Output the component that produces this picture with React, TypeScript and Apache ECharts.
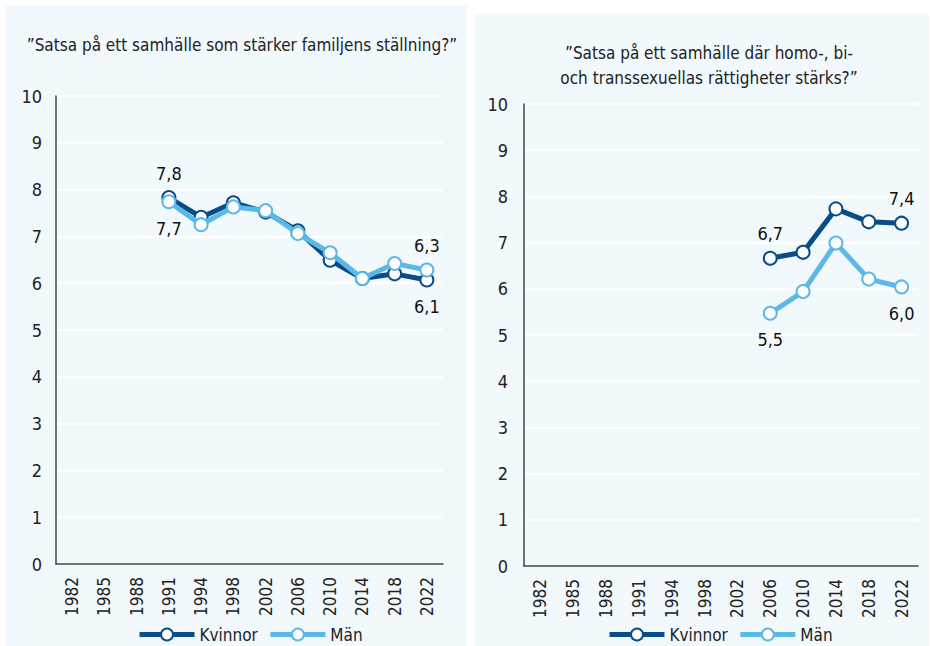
import React, { useEffect, useRef } from "react";
import * as echarts from "echarts";

const years = ["1982", "1985", "1988", "1991", "1994", "1998", "2002", "2006", "2010", "2014", "2018", "2022"];
const yTicks = [0, 10];

const leftTitle = "”Satsa på ett samhälle som stärker familjens ställning?”";
const rightTitle = "”Satsa på ett samhälle där homo-, bi-\noch transsexuellas rättigheter stärks?”";

const leftKvinnor = [null, null, null, 7.83, 7.41, 7.72, 7.52, 7.12, 6.49, 6.1, 6.2, 6.07];
const leftMan = [null, null, null, 7.74, 7.25, 7.63, 7.55, 7.06, 6.65, 6.1, 6.42, 6.28];
const rightKvinnor = [null, null, null, null, null, null, null, 6.66, 6.79, 7.73, 7.45, 7.42];
const rightMan = [null, null, null, null, null, null, null, 5.47, 5.94, 6.99, 6.21, 6.04];

// which points carry value labels: [index, position]
const leftKvinnorLabels: [number, string][] = [[3, "top"], [11, "bottom"]];
const leftManLabels: [number, string][] = [[3, "bottom"], [11, "top"]];
const rightKvinnorLabels: [number, string][] = [[7, "top"], [11, "top"]];
const rightManLabels: [number, string][] = [[7, "bottom"], [11, "bottom"]];

const DARK = "#0a4c88";
const LIGHT = "#5cb8e6";
const BG = "#f2f9fd";
const FONT = "'Liberation Sans Narrow', 'DejaVu Sans Condensed', 'Roboto Condensed', sans-serif";

function buildData(vals: (number | null)[], labels: [number, string][]) {
  return vals.map((v, i) => {
    const l = labels.find((x) => x[0] === i);
    if (!l || v == null) return v;
    return {
      value: v,
      label: {
        show: true,
        position: l[1],
        distance: l[1] === "top" ? 8 : 10,
        fontSize: 18,
        fontFamily: FONT,
        color: "#111",
        formatter: (p: any) => Number(p.value).toFixed(1).replace(".", ","),
      },
    };
  });
}

function lineSeries(name: string, color: string, data: any[], idx: number) {
  return {
    name,
    type: "line",
    xAxisIndex: idx,
    yAxisIndex: idx,
    data,
    symbol: "circle",
    symbolSize: 13,
    lineStyle: { color, width: 5 },
    itemStyle: { color: "#fff", borderColor: color, borderWidth: 2 },
    z: name === "Män" ? 3 : 2,
  };
}

export default function App() {
  const ref = useRef<HTMLDivElement>(null);
  useEffect(() => {
    if (!ref.current) return;
    const chart = echarts.init(ref.current, null, { renderer: "svg" });
    const yAxisBase = (idx: number, margin: number) => ({
      type: "value",
      gridIndex: idx,
      min: yTicks[0],
      max: yTicks[1],
      interval: 1,
      axisLine: { show: true, lineStyle: { color: "#444", width: 1.5 } },
      axisTick: { show: false },
      axisLabel: { fontSize: 18, color: "#222", fontFamily: FONT, margin },
      splitLine: { show: true, lineStyle: { color: "#ffffff", width: 2 } },
    });
    const xAxisBase = (idx: number) => ({
      type: "category",
      gridIndex: idx,
      data: years,
      boundaryGap: true,
      axisLine: { show: true, lineStyle: { color: "#444", width: 1.5 } },
      axisTick: { show: false },
      axisLabel: { rotate: 90, fontSize: 17, color: "#222", fontFamily: FONT, margin: 13, interval: 0 },
      splitLine: { show: false },
    });
    const legendBase = {
      data: ["Kvinnor", "Män"],
      itemWidth: 55,
      itemHeight: 15,
      itemGap: 10,
      selectedMode: false,
      lineStyle: { width: 5 },
      textStyle: { fontSize: 17, color: "#222", fontFamily: FONT },
    };
    chart.setOption({
      animation: false,
      backgroundColor: "#ffffff",
      graphic: [
        { type: "rect", z: -10, shape: { x: 5, y: 5, width: 462, height: 641 }, style: { fill: BG } },
        { type: "rect", z: -10, shape: { x: 474, y: 14, width: 455, height: 632 }, style: { fill: BG } },
      ],
      title: [
        {
          text: leftTitle,
          left: 237,
          top: 31,
          textAlign: "center",
          textStyle: { fontSize: 17, fontWeight: "normal", color: "#222", fontFamily: FONT },
        },
        {
          text: rightTitle,
          left: 704,
          top: 35,
          textAlign: "center",
          textStyle: { fontSize: 17, fontWeight: "normal", color: "#222", fontFamily: FONT, lineHeight: 25 },
        },
      ],
      legend: [
        { ...legendBase, left: 132, top: 621 },
        { ...legendBase, left: 602, top: 621 },
      ],
      grid: [
        { left: 56, top: 96, right: 488, bottom: 82, containLabel: false },
        { left: 524, top: 104, right: 13, bottom: 80, containLabel: false },
      ],
      xAxis: [xAxisBase(0), xAxisBase(1)],
      yAxis: [yAxisBase(0, 14), yAxisBase(1, 16)],
      series: [
        lineSeries("Kvinnor", DARK, buildData(leftKvinnor, leftKvinnorLabels), 0),
        lineSeries("Män", LIGHT, buildData(leftMan, leftManLabels), 0),
        lineSeries("Kvinnor", DARK, buildData(rightKvinnor, rightKvinnorLabels), 1),
        lineSeries("Män", LIGHT, buildData(rightMan, rightManLabels), 1),
      ],
    });
    return () => chart.dispose();
  }, []);
  return (
    <div
      ref={ref}
      style={{ position: "absolute", left: 0, top: 0, width: 931, height: 646 }}
    />
  );
}
